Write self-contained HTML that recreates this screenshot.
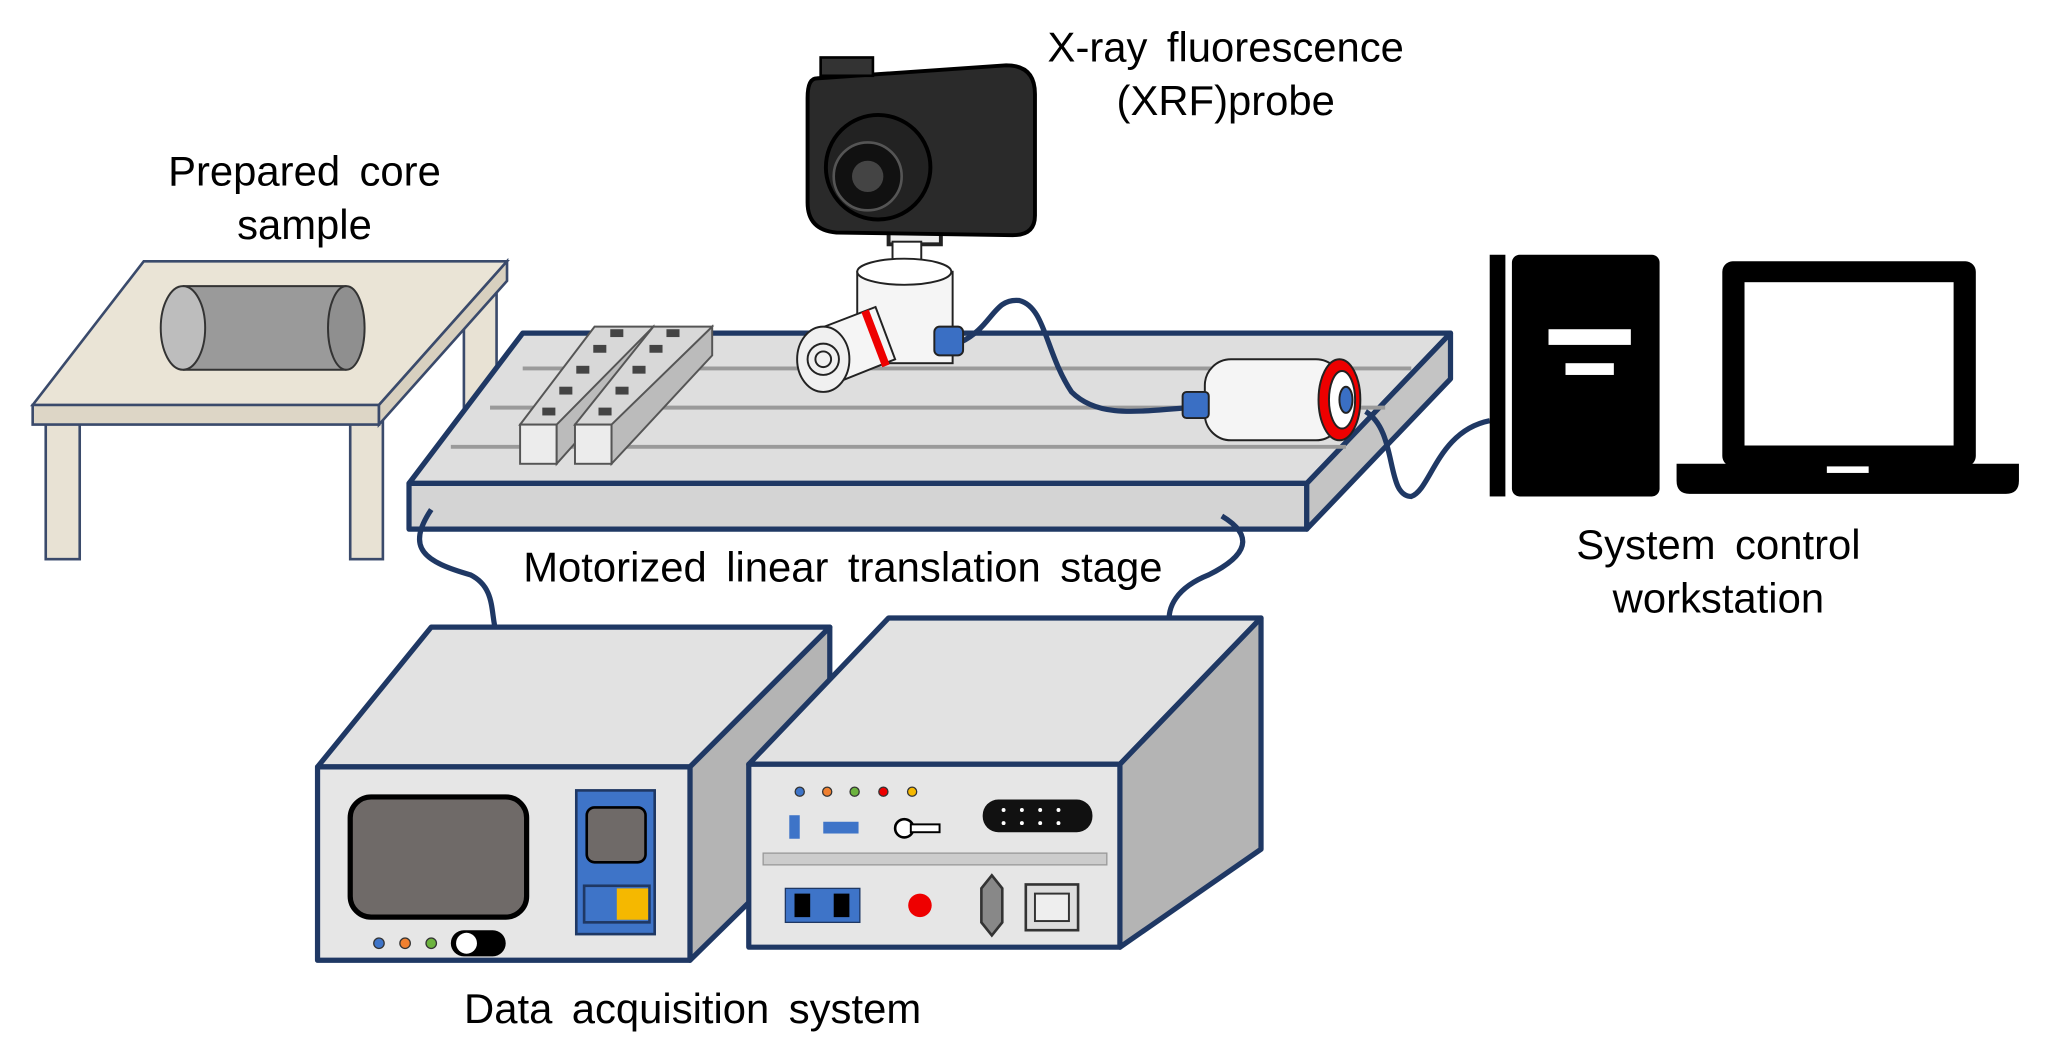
<!DOCTYPE html>
<html><head><style>
html,body{margin:0;padding:0;background:#fff;}
svg{display:block;}
text{font-family:"Liberation Sans",Arial,sans-serif;font-size:32px;word-spacing:6px;fill:#000;}
</style></head><body>
<svg width="2049" height="1053" viewBox="0 0 1568 806" preserveAspectRatio="none" xmlns="http://www.w3.org/2000/svg">
<rect width="1568" height="806" fill="#fff"/>
<!-- Table -->
<g stroke="#3a4a6b" stroke-width="2">
<rect x="35" y="322" width="26" height="106" fill="#e8e2d4"/>
<rect x="268" y="322" width="25" height="106" fill="#e8e2d4"/>
<rect x="355" y="212" width="25" height="118" fill="#e8e2d4"/>
<polygon points="25,310 110,200 388,200 290,310" fill="#eae4d6"/>
<polygon points="25,310 290,310 290,325 25,325" fill="#ddd6c6"/>
<polygon points="290,310 388,200 388,215 290,325" fill="#d8d0bf"/>
</g>
<!-- core sample -->
<g stroke="#333" stroke-width="1.5">
<rect x="140" y="219" width="125" height="64" fill="#9a9a9a" stroke="none"/>
<line x1="140" y1="219" x2="265" y2="219"/><line x1="140" y1="283" x2="265" y2="283"/>
<ellipse cx="265" cy="251" rx="14" ry="32" fill="#8f8f8f"/>
<ellipse cx="140" cy="251" rx="17" ry="32" fill="#bdbdbd"/>
</g>
<!-- Stage -->
<g stroke="#1f3864" stroke-width="4" stroke-linejoin="round">
<polygon points="313,370 400,255 1110,255 1000,370" fill="#dedede"/>
<polygon points="313,370 1000,370 1000,405 313,405" fill="#d4d4d4"/>
<polygon points="1000,370 1110,255 1110,290 1000,405" fill="#c4c4c4"/>
</g>
<g stroke="#9a9a9a" stroke-width="3">
<line x1="400" y1="282" x2="1080" y2="282"/>
<line x1="375" y1="312" x2="1060" y2="312"/>
<line x1="345" y1="342" x2="1030" y2="342"/>
</g>
<!-- racks -->
<g stroke="#555" stroke-width="1.5">
<polygon points="398,325 455,250 500,250 443,325" fill="#d8d8d8"/>
<rect x="398" y="325" width="28" height="30" fill="#ececec"/>
<polygon points="426,325 500,250 500,272 426,355" fill="#bbb"/>
<polygon points="440,325 500,250 545,250 485,325" fill="#d8d8d8"/>
<rect x="440" y="325" width="28" height="30" fill="#ececec"/>
<polygon points="468,325 545,250 545,272 468,355" fill="#bbb"/>
</g>
<g fill="#444">
<rect x="415" y="312" width="10" height="6"/><rect x="428" y="296" width="10" height="6"/><rect x="441" y="280" width="10" height="6"/><rect x="454" y="264" width="10" height="6"/><rect x="467" y="252" width="10" height="6"/>
<rect x="458" y="312" width="10" height="6"/><rect x="471" y="296" width="10" height="6"/><rect x="484" y="280" width="10" height="6"/><rect x="497" y="264" width="10" height="6"/><rect x="510" y="252" width="10" height="6"/>
</g>
<!-- cables -->
<g fill="none" stroke="#1f3864" stroke-width="4">
<path d="M735,262 C760,250 760,228 780,230 C800,235 800,270 820,300 C840,320 870,315 910,312"/>
<path d="M1045,315 C1070,330 1060,380 1080,380 C1095,375 1100,330 1140,322"/>
<path d="M330,390 C310,420 325,430 360,440 C380,450 375,470 380,485"/>
<path d="M935,395 C960,410 955,425 925,440 C900,450 893,465 895,478"/>
</g>
<!-- camera -->
<rect x="680" y="165" width="40" height="22" fill="#eee" stroke="#222" stroke-width="3"/>
<path d="M625,60 L770,50 Q792,50 792,72 L792,165 Q792,180 775,180 L640,178 Q618,176 618,155 L618,75 Q618,60 625,60 Z" fill="#2a2a2a" stroke="#000" stroke-width="3"/>
<rect x="628" y="44" width="40" height="14" fill="#333" stroke="#000" stroke-width="2"/>
<circle cx="672" cy="128" r="40" fill="#222" stroke="#000" stroke-width="3"/>
<circle cx="664" cy="135" r="26" fill="#111" stroke="#555" stroke-width="2"/>
<circle cx="664" cy="135" r="12" fill="#444"/>
<!-- probe -->
<g stroke="#222" stroke-width="1.5">
<rect x="683" y="185" width="22" height="25" fill="#fff"/>
<rect x="656" y="208" width="73" height="70" fill="#f5f5f5"/>
<ellipse cx="692" cy="208" rx="36" ry="10" fill="#fff"/>
<rect x="715" y="250" width="22" height="22" rx="4" fill="#3a6fc4"/>
<polygon points="618,255 670,235 685,275 635,295" fill="#f5f5f5"/>
<ellipse cx="630" cy="275" rx="20" ry="25" fill="#f0f0f0"/>
<circle cx="630" cy="275" r="12" fill="none"/><circle cx="630" cy="275" r="6" fill="none"/>
</g>
<path d="M662,238 L678,280" stroke="#e00" stroke-width="6" fill="none"/>
<g stroke="#222" stroke-width="1.5">
<rect x="922" y="275" width="105" height="62" rx="20" fill="#f5f5f5"/>
<ellipse cx="1025" cy="306" rx="16" ry="31" fill="#e00"/>
<ellipse cx="1027" cy="306" rx="10" ry="22" fill="#fff"/>
<ellipse cx="1030" cy="306" rx="5" ry="10" fill="#3a6fc4"/>
<rect x="905" y="300" width="20" height="20" rx="3" fill="#3a6fc4"/>
</g>
<!-- computer -->
<rect x="1140" y="195" width="12" height="185" fill="#000"/>
<rect x="1157" y="195" width="113" height="185" rx="6" fill="#000"/>
<rect x="1185" y="252" width="63" height="12" fill="#fff"/>
<rect x="1198" y="278" width="37" height="9" fill="#fff"/>
<rect x="1318" y="200" width="194" height="157" rx="8" fill="#000"/>
<rect x="1335" y="216" width="160" height="125" fill="#fff"/>
<path d="M1283,355 L1545,355 L1545,368 Q1545,378 1535,378 L1293,378 Q1283,378 1283,368 Z" fill="#000"/>
<rect x="1398" y="357" width="32" height="5" fill="#fff"/>
<!-- DAQ box 1 -->
<g stroke="#1f3864" stroke-width="4" stroke-linejoin="round">
<polygon points="243,587 330,480 635,480 528,587" fill="#e2e2e2"/>
<polygon points="528,587 635,480 635,630 528,735" fill="#b4b4b4"/>
<rect x="243" y="587" width="285" height="148" fill="#e6e6e6"/>
</g>
<rect x="268" y="610" width="135" height="92" rx="16" fill="#6f6a68" stroke="#000" stroke-width="4"/>
<rect x="441" y="605" width="60" height="110" fill="#3e74c8" stroke="#1f3864" stroke-width="2"/>
<rect x="449" y="618" width="45" height="42" rx="6" fill="#6f6a68" stroke="#000" stroke-width="2"/>
<rect x="447" y="678" width="50" height="28" fill="#3e74c8" stroke="#1f3864" stroke-width="2"/>
<rect x="472" y="680" width="24" height="24" fill="#f5b800"/>
<circle cx="290" cy="722" r="4" fill="#3e74c8" stroke="#333"/>
<circle cx="310" cy="722" r="4" fill="#f08030" stroke="#333"/>
<circle cx="330" cy="722" r="4" fill="#6cb33e" stroke="#333"/>
<rect x="345" y="712" width="42" height="20" rx="10" fill="#000"/>
<circle cx="357" cy="722" r="8" fill="#fff"/>
<!-- DAQ box 2 -->
<g stroke="#1f3864" stroke-width="4" stroke-linejoin="round">
<polygon points="573,585 680,473 965,473 857,585" fill="#e2e2e2"/>
<polygon points="857,585 965,473 965,650 857,725" fill="#b4b4b4"/>
<rect x="573" y="585" width="284" height="140" fill="#e6e6e6"/>
</g>
<circle cx="612" cy="606" r="3.5" fill="#3e74c8" stroke="#333"/>
<circle cx="633" cy="606" r="3.5" fill="#f08030" stroke="#333"/>
<circle cx="654" cy="606" r="3.5" fill="#6cb33e" stroke="#333"/>
<circle cx="676" cy="606" r="3.5" fill="#e00" stroke="#333"/>
<circle cx="698" cy="606" r="3.5" fill="#f5b800" stroke="#333"/>
<rect x="604" y="624" width="8" height="18" fill="#3e74c8"/>
<rect x="630" y="629" width="27" height="9" fill="#3e74c8"/>
<circle cx="692" cy="634" r="7" fill="#fff" stroke="#000" stroke-width="2"/>
<rect x="697" y="631" width="22" height="6" fill="#fff" stroke="#000" stroke-width="1.5"/>
<rect x="752" y="612" width="84" height="25" rx="12" fill="#111"/>
<g fill="#fff"><circle cx="768" cy="620" r="1.5"/><circle cx="782" cy="620" r="1.5"/><circle cx="796" cy="620" r="1.5"/><circle cx="810" cy="620" r="1.5"/><circle cx="768" cy="630" r="1.5"/><circle cx="782" cy="630" r="1.5"/><circle cx="796" cy="630" r="1.5"/><circle cx="810" cy="630" r="1.5"/></g>
<rect x="584" y="653" width="263" height="9" fill="#ccc" stroke="#999"/>
<rect x="601" y="680" width="57" height="26" fill="#3e74c8" stroke="#1f3864"/>
<rect x="608" y="684" width="12" height="18" fill="#000"/><rect x="638" y="684" width="12" height="18" fill="#000"/>
<circle cx="704" cy="693" r="9" fill="#e00"/>
<polygon points="759,670 767,680 767,706 759,716 751,706 751,680" fill="#888" stroke="#333" stroke-width="2"/>
<rect x="785" y="677" width="40" height="35" fill="#ddd" stroke="#333" stroke-width="2"/>
<rect x="792" y="684" width="26" height="21" fill="#eee" stroke="#333" stroke-width="1.5"/>
<!-- labels -->
<text x="233" y="142" text-anchor="middle">Prepared core</text>
<text x="233" y="183" text-anchor="middle">sample</text>
<text x="938" y="47" text-anchor="middle">X-ray fluorescence</text>
<text x="938" y="88" text-anchor="middle">(XRF)probe</text>
<text x="645" y="445" text-anchor="middle">Motorized linear translation stage</text>
<text x="1315" y="428" text-anchor="middle">System control</text>
<text x="1315" y="469" text-anchor="middle">workstation</text>
<text x="530" y="783" text-anchor="middle">Data acquisition system</text>
</svg>
</body></html>
